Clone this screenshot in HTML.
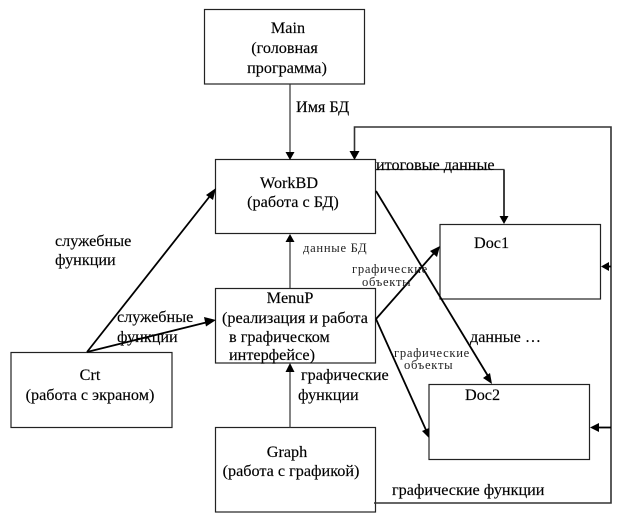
<!DOCTYPE html>
<html><head><meta charset="utf-8">
<style>
html,body{margin:0;padding:0;background:#fff;width:623px;height:517px;overflow:hidden}
svg{display:block;filter:blur(.35px)}
text{font-family:"Liberation Serif","DejaVu Serif",serif;font-size:16.2px;fill:#000;stroke:#000;stroke-width:.15px}
.s{font-size:12.6px;letter-spacing:.7px;fill:#222;stroke:none}
.m{text-anchor:middle}
rect{fill:#fff;stroke:#222;stroke-width:1.2}
.l{stroke:#333;stroke-width:1.2;fill:none}
.g{stroke:#333;stroke-width:1.6;fill:none}
.t{stroke:#000;stroke-width:1.8;fill:none}
polygon{fill:#000}
</style></head><body>
<svg width="623" height="517" viewBox="0 0 623 517" xmlns="http://www.w3.org/2000/svg">
<rect x="204.500" y="9.500" width="160" height="74.500"/>
<rect x="215.500" y="159.500" width="160" height="74"/>
<rect x="440" y="224.500" width="160.500" height="74.500"/>
<rect x="215.500" y="288.500" width="160" height="74.500"/>
<rect x="11" y="352.500" width="161" height="75"/>
<rect x="215.500" y="427.500" width="160" height="84.500"/>
<rect x="429" y="384.500" width="160.500" height="75"/>

<path class="l" d="M290 84V153"/><polygon points="285.500,152 294.500,152 290,160"/>
<path class="l" d="M290 288V241"/><polygon points="285.500,242 294.500,242 290,234"/>
<path class="l" d="M290 428V371"/><polygon points="285.500,372 294.500,372 290,363"/>
<path class="g" d="M354.500 152V127H611V503H374"/><polygon points="349.500,151 359.500,151 354.500,160"/>
<path class="l" d="M376 169.500H504V217"/><path class="t" style="stroke-width:1.4" d="M504 170V217"/><polygon points="499.500,216 508.500,216 504,224"/>
<path class="t" d="M611 266.500H606"/><polygon points="601,266.500 609,262 609,271"/>
<path class="t" d="M611 427.500H596"/><polygon points="590,427.500 599,423 599,432"/>
<path class="t" d="M376 191L488 376"/><polygon points="492,384 483,378 490,373"/>
<path class="t" d="M87 352L210 196"/><polygon points="216,188 213,200 206,195"/>
<path class="t" d="M87 352L208 322"/><polygon points="216,320 206,326.500 204,317"/>
<path class="t" d="M376 319L435 252"/><polygon points="440,246 437,257 430,251"/>
<path class="t" d="M376 319L426 430"/><polygon points="429,438 422,431 429,428"/>

<text class="m" x="288" y="33">Main</text>
<text class="m" x="284.500" y="53">(головная</text>
<text class="m" x="287" y="73">программа)</text>
<text x="296" y="112">Имя БД</text>
<text x="376" y="170">итоговые данные</text>
<text class="m" x="289" y="188">WorkBD</text>
<text class="m" x="293" y="207">(работа с БД)</text>
<text class="s" x="303" y="252">данные БД</text>
<text x="474" y="248">Doc1</text>
<text class="s" x="352" y="273">графические</text>
<text class="s" x="362" y="286">объекты</text>
<text x="55" y="246">служебные</text>
<text x="55" y="265">функции</text>
<text x="117" y="322">служебные</text>
<text x="117" y="342">функции</text>
<text class="m" x="290" y="303">MenuP</text>
<text x="222" y="323">(реализация и работа</text>
<text x="229" y="342">в графическом</text>
<text x="229" y="360">интерфейсе)</text>
<text x="470" y="342">данные …</text>
<text class="s" x="394" y="357">графические</text>
<text class="s" x="404" y="369">объекты</text>
<text class="m" x="90" y="380">Crt</text>
<text class="m" x="90" y="400">(работа с экраном)</text>
<text x="301" y="380">графические</text>
<text x="298" y="400">функции</text>
<text x="465" y="400">Doc2</text>
<text class="m" x="287" y="457">Graph</text>
<text class="m" x="291" y="476">(работа с графикой)</text>
<text x="392" y="495">графические функции</text>
</svg>
</body></html>
